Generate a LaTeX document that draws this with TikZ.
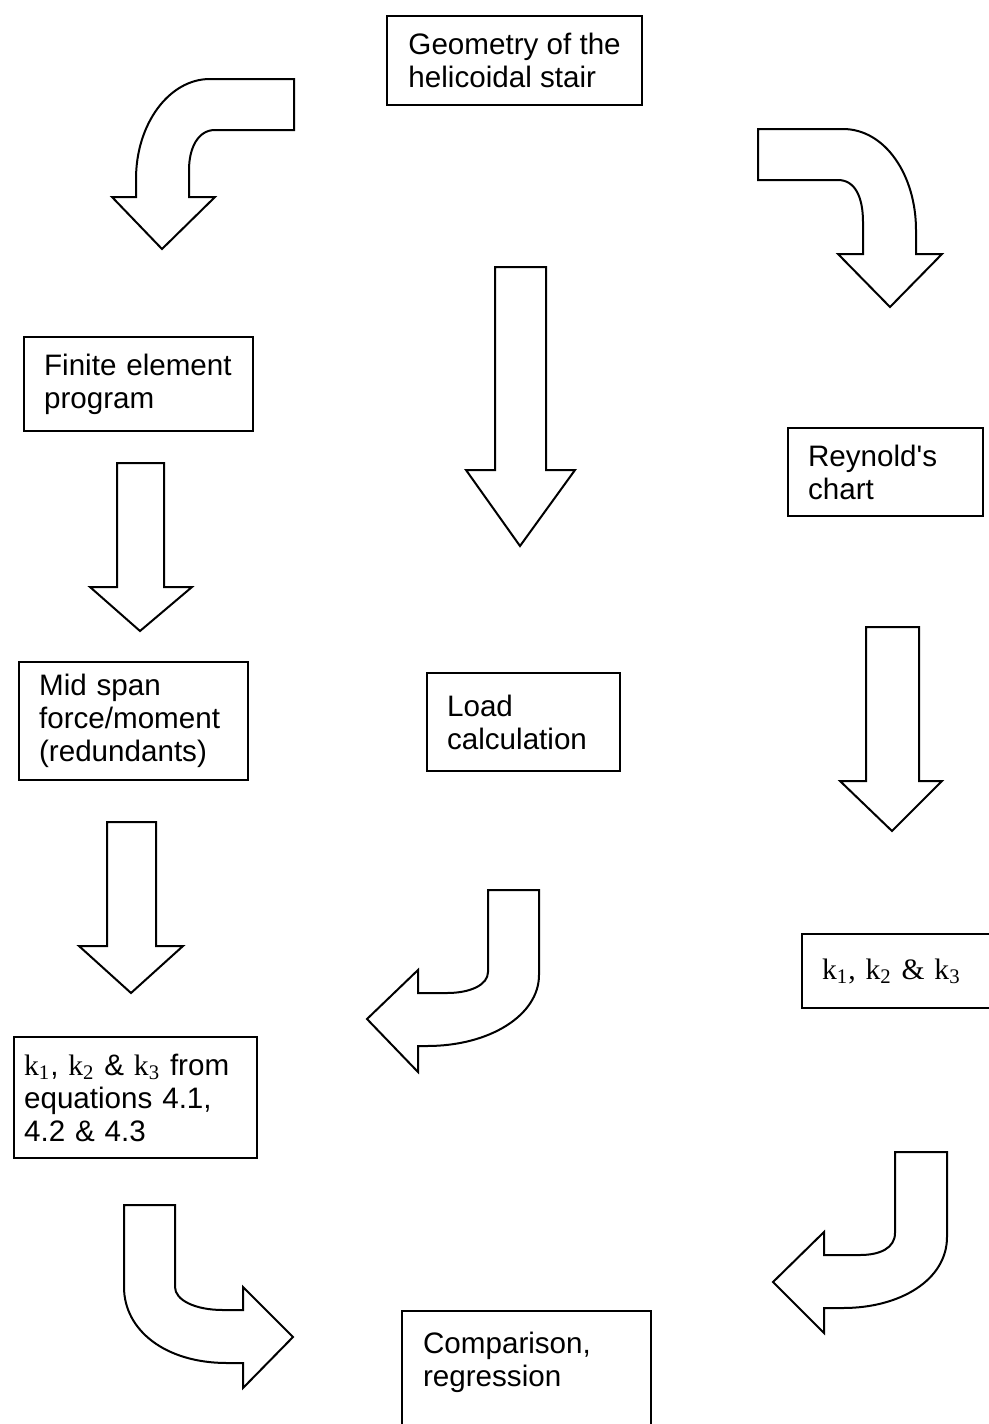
\documentclass[tikz,border=0pt]{standalone}
\usepackage{fontspec}
\setmainfont{Liberation Sans}
\newfontfamily\timesf{Liberation Serif}
\tikzset{
  blockbox/.style={draw, line width=1.1pt, anchor=north west, align=left, inner xsep=10pt,
    font=\fontsize{14.8}{16.5}\selectfont},
  blockarrow/.style={draw, line width=1pt, line join=miter}
}
\newcommand{\kk}[1]{{\timesf k\textsubscript{#1}}}
\begin{document}
\begin{tikzpicture}[x=0.5pt,y=-0.5pt]
 \useasboundingbox (0,0) rectangle (989,1424);

 \node [blockbox, minimum width=127.5pt, minimum height=44.5pt] (geom) at (386,15) {Geometry of the\\helicoidal stair};
 \node [blockbox, text width=94.5pt, minimum height=47pt] (fem) at (23,336) {Finite element\\program};
 \node [blockbox, text width=77.5pt, minimum height=44pt] (rey) at (787,427) {Reynold\textquotesingle s\\chart};
 \node [blockbox, text width=94.5pt, minimum height=59pt] (mid) at (18,661) {Mid span\\force/moment\\(redundants)};
 \node [blockbox, text width=76.5pt, minimum height=49pt] (load) at (426,672) {Load\\calculation};
 \node [blockbox, text width=100pt, minimum height=37pt] (kchart) at (801,933) {\timesf k\textsubscript{1}, k\textsubscript{2} \& k\textsubscript{3}};
 \node [blockbox, inner xsep=5pt, text width=111.5pt, minimum height=60.5pt] (keq) at (13,1036) {\kk{1}, \kk{2} \& \kk{3} from\\equations 4.1,\\4.2 \& 4.3};
 \node [blockbox, draw=none, inner ysep=10pt, text width=104.5pt] (cmp) at (402,1311) {Comparison,\\regression};
 \draw [line width=1.1pt] (cmp.north west) rectangle ++(249,140);

 \draw [blockarrow] (294,79) -- (210,79) .. controls (169,79) and (136,124) .. (136,179) -- (136,197) -- (112,197) -- (162,249) -- (215,197) -- (189,197) -- (189,170) .. controls (189,148) and (198,130) .. (215,130) -- (294,130) -- cycle;
 \draw [blockarrow] (758,129) -- (843,129) .. controls (885,129) and (916,175) .. (916,230) -- (916,254) -- (942,254) -- (890,307) -- (838,254) -- (863,254) -- (863,222) .. controls (863,197) and (855,180) .. (838,180) -- (758,180) -- cycle;
 \draw [blockarrow] (488,890) -- (539,890) -- (539,975) .. controls (539,1015) and (490,1046) .. (427,1046) -- (418,1046) -- (418,1072) -- (367,1019) -- (418,970) -- (418,993) -- (447,993) .. controls (470,993) and (488,985) .. (488,972) -- cycle;
 \draw [blockarrow] (124,1205) -- (175,1205) -- (175,1287) .. controls (175,1300) and (195,1310) .. (223,1310) -- (243,1310) -- (243,1287) -- (293,1337) -- (243,1388) -- (243,1363) -- (227,1363) .. controls (165,1363) and (124,1330) .. (124,1287) -- cycle;
 \draw [blockarrow] (895,1152) -- (947,1152) -- (947,1237) .. controls (947,1280) and (900,1308) .. (843,1308) -- (824,1308) -- (824,1333) -- (773,1282) -- (824,1232) -- (824,1255) -- (860,1255) .. controls (880,1255) and (895,1248) .. (895,1233) -- cycle;

 \draw [blockarrow] (495,267) -- (546,267) -- (546,470) -- (575,470) -- (520,546) -- (466,470) -- (495,470) -- cycle;
 \draw [blockarrow] (117,463) -- (164,463) -- (164,587) -- (192,587) -- (140,631) -- (90,587) -- (117,587) -- cycle;
 \draw [blockarrow] (107,822) -- (156,822) -- (156,946) -- (183,946) -- (131,993) -- (79,946) -- (107,946) -- cycle;
 \draw [blockarrow] (866,627) -- (919,627) -- (919,781) -- (942,781) -- (892,831) -- (840,781) -- (866,781) -- cycle;
\end{tikzpicture}
\end{document}
